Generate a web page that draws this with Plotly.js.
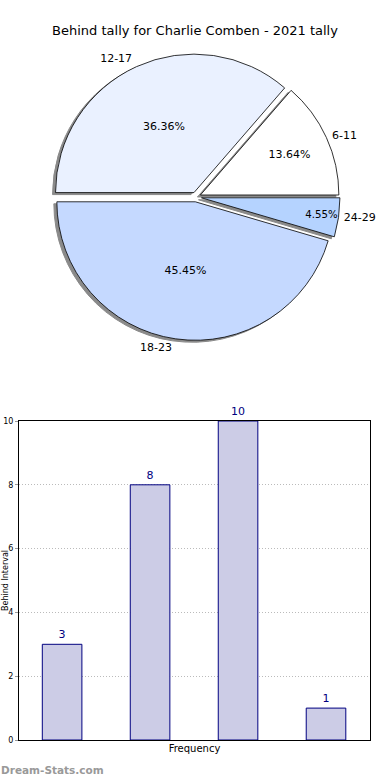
<!DOCTYPE html>
<html>
<head>
<meta charset="utf-8">
<script src="https://cdn.plot.ly/plotly-3.0.1.min.js"></script>
<style>html,body{margin:0;padding:0;background:#fff;}#chart{width:390px;height:780px;}</style>
</head>
<body>
<div id="chart"></div>
<script>
const categories = ["6-11", "12-17", "18-23", "24-29"];
const counts = [3, 8, 10, 1];
const sliceColors = ["#ffffff", "#eaf1ff", "#c5d9ff", "#b5d3ff"];
const pulls = [0.035, 0.035, 0.035, 0.04];
const barLabels = counts.map(String);
const titleText = "Behind tally for Charlie Comben - 2021 tally";
const yTitle = "Behind Interval";
const xTitle = "Frequency";

const W = 390, H = 780, ML = 19, MR = 20, MT = 0, MB = 40;
const PW = W - ML - MR, PH = H - MT - MB;
const px = v => (v - ML) / PW;
const py = v => (H - MB - v) / PH;

const total = counts.reduce((a, b) => a + b, 0);
const rot = 90 - 360 * counts[0] / total;

const cx = 196, cy = 197;
const dom = (r, dx, dy) => ({x: [px(cx - r + dx), px(cx + r + dx)], y: [py(cy + r + dy), py(cy - r + dy)]});

const font = "DejaVu Sans, sans-serif";

const shadow = {
  type: "pie", labels: categories, values: counts, sort: false,
  direction: "counterclockwise", rotation: rot, pull: pulls,
  domain: dom(144, -3, 2),
  marker: {colors: categories.map(() => "#8a8a8a"), line: {color: "#8a8a8a", width: 1}},
  textinfo: "none", hoverinfo: "skip", showlegend: false
};
const labelRing = {
  type: "pie", labels: categories, values: counts, sort: false,
  direction: "counterclockwise", rotation: rot,
  domain: dom(146, 0, 0),
  marker: {colors: categories.map(() => "rgba(0,0,0,0)"), line: {width: 0}},
  textinfo: "label", textposition: "outside",
  outsidetextfont: {family: font, size: 11, color: "#000"},
  hoverinfo: "skip", showlegend: false
};
const pie = {
  type: "pie", labels: categories, values: counts, sort: false,
  direction: "counterclockwise", rotation: rot, pull: pulls,
  domain: dom(144, 0, 0),
  marker: {colors: sliceColors, line: {color: "#000", width: 0.8}},
  texttemplate: "%{percent:.2%}", textposition: "inside", insidetextorientation: "horizontal",
  insidetextfont: {family: font, size: 11, color: "#000"},
  showlegend: false
};
const bars = {
  type: "bar", x: [0, 1, 2, 3], y: counts, width: 0.45,
  marker: {color: "#ccccе6".replace("е","e"), line: {color: "#000080", width: 1}},
  text: barLabels, textposition: "outside", cliponaxis: false,
  textfont: {family: font, size: 11, color: "#000080"},
  xaxis: "x", yaxis: "y", showlegend: false, hoverinfo: "y"
};

const layout = {
  width: W, height: H,
  margin: {l: ML, r: MR, t: MT, b: MB},
  paper_bgcolor: "#fff", plot_bgcolor: "#fff",
  font: {family: font, size: 11, color: "#000"},
  title: {text: titleText, x: 0.5, xanchor: "center", xref: "container",
          y: 1 - 30 / H, yanchor: "middle", yref: "container",
          font: {family: font, size: 13, color: "#000"}},
  xaxis: {domain: [0, 1], range: [-0.49, 3.5], showticklabels: false, ticks: "",
          showgrid: false, zeroline: false, showline: true, linecolor: "#000", linewidth: 1, mirror: true,
          title: {text: xTitle, font: {family: font, size: 10, color: "#000"}, standoff: 4}},
  yaxis: {domain: [0, py(421)], range: [0, 10], dtick: 2, ticks: "outside", ticklen: 3, tickcolor: "#999",
          tickfont: {family: font, size: 8, color: "#000"},
          showgrid: true, gridcolor: "#bbbbbb", griddash: "1px,2px", gridwidth: 1, zeroline: false,
          showline: true, linecolor: "#000", linewidth: 1, mirror: true},
  annotations: [
    {text: yTitle, textangle: -90, xref: "paper", yref: "paper",
     x: px(5), y: py(581), xanchor: "center", yanchor: "middle", showarrow: false,
     font: {family: font, size: 8, color: "#000"}},
    {text: "<b>Dream-Stats.com</b>", xref: "paper", yref: "paper",
     x: px(-1), y: py(770), xanchor: "left", yanchor: "middle", showarrow: false,
     font: {family: font, size: 10.5, color: "#999"}}]
};

Plotly.newPlot("chart", [shadow, labelRing, pie, bars], layout, {displayModeBar: false, staticPlot: true});
</script>
</body>
</html>
